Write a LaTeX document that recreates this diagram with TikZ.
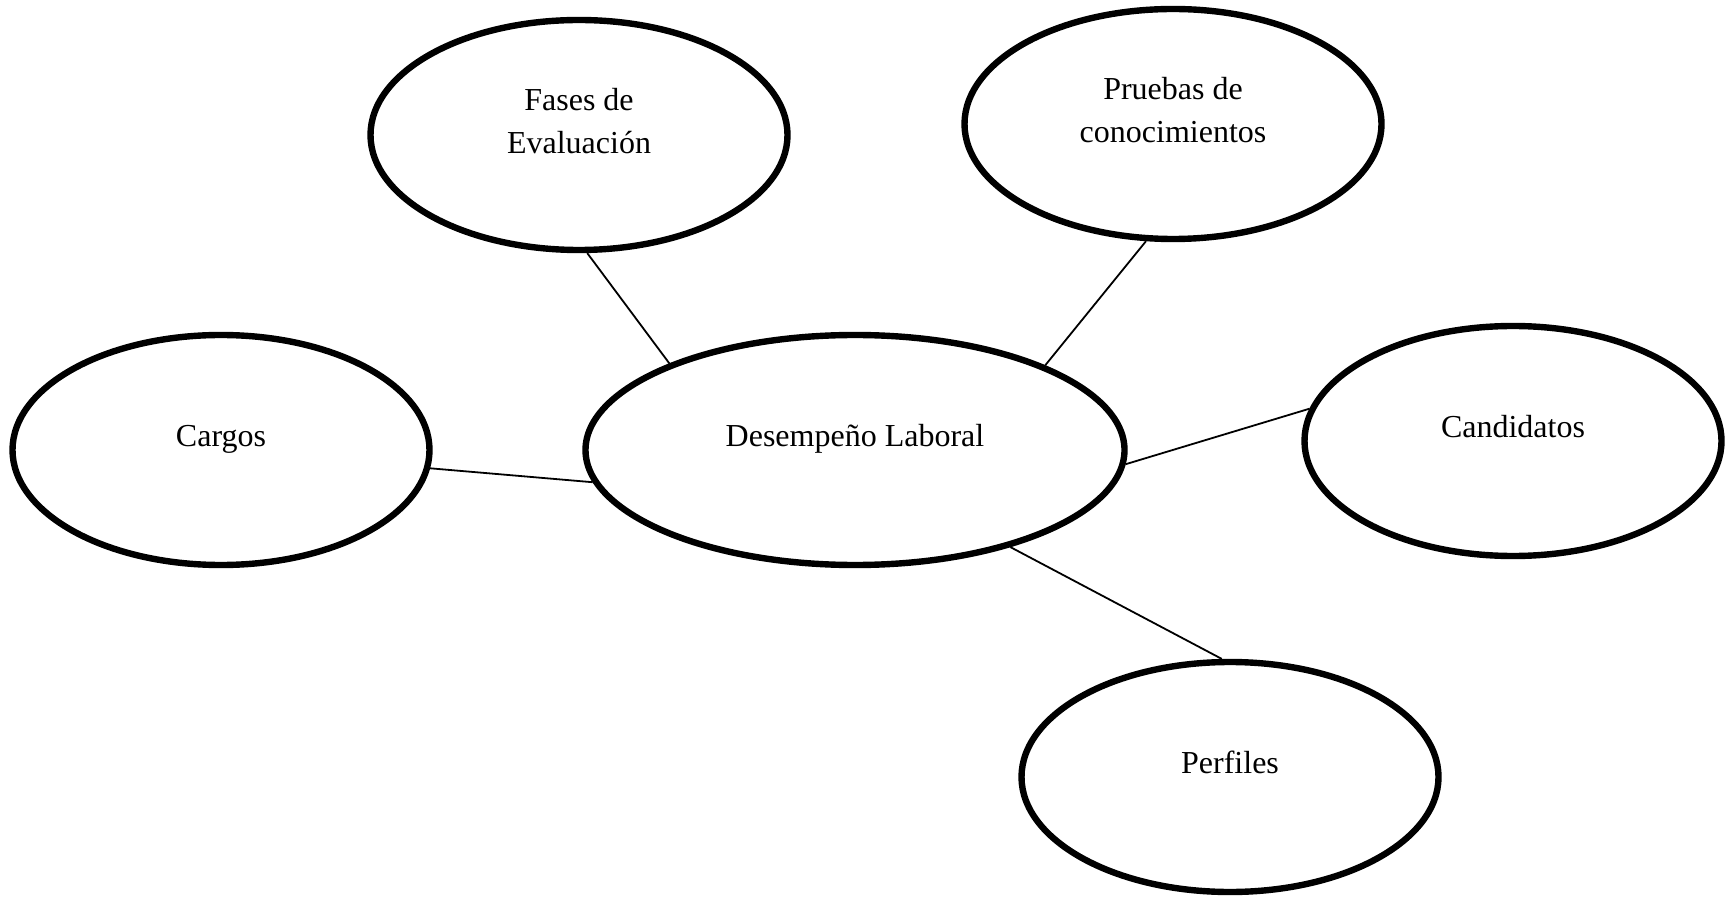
\documentclass[tikz,border=0pt]{standalone}
\usepackage{fontspec}
\setmainfont{Liberation Serif}
\usetikzlibrary{shapes.geometric}
\begin{document}
\begin{tikzpicture}[x=0.5pt,y=-0.5pt,
  bubble/.style={ellipse, draw, line width=3.2pt, fill=white,
    minimum width=208.5pt, minimum height=115pt, inner sep=0pt,
    text height=0pt, text depth=3pt,
    font=\fontsize{16}{21.5}\selectfont},
  wide/.style={minimum width=269.5pt},
  link/.style={line width=0.9pt}]
\useasboundingbox (0,0) rectangle (1727,897);

% central concept
\node[bubble, wide] (des) at (855,450) {\begin{tabular}{@{}c@{}}Desempeño Laboral\end{tabular}};

% surrounding concepts
\node[bubble] (fases) at (579,135) {\begin{tabular}{@{}c@{}}Fases de\\Evaluación\end{tabular}};
\node[bubble] (pruebas) at (1173,124) {\begin{tabular}{@{}c@{}}Pruebas de\\conocimientos\end{tabular}};
\node[bubble] (cargos) at (221,450) {\begin{tabular}{@{}c@{}}Cargos\end{tabular}};
\node[bubble] (cand) at (1513,441) {\begin{tabular}{@{}c@{}}Candidatos\end{tabular}};
\node[bubble] (perf) at (1230,777) {\begin{tabular}{@{}c@{}}Perfiles\end{tabular}};

% connectors
\draw[link] (fases.274.3) -- (des.155.2);
\draw[link] (pruebas.257) -- (des.24.5);
\draw[link] (cargos.-5.2) -- (des.187.9);
\draw[link] (cand.171.1) -- (des.-3.6);
\draw[link] (perf.94.9) -- (des.-32.7);
\end{tikzpicture}
\end{document}
